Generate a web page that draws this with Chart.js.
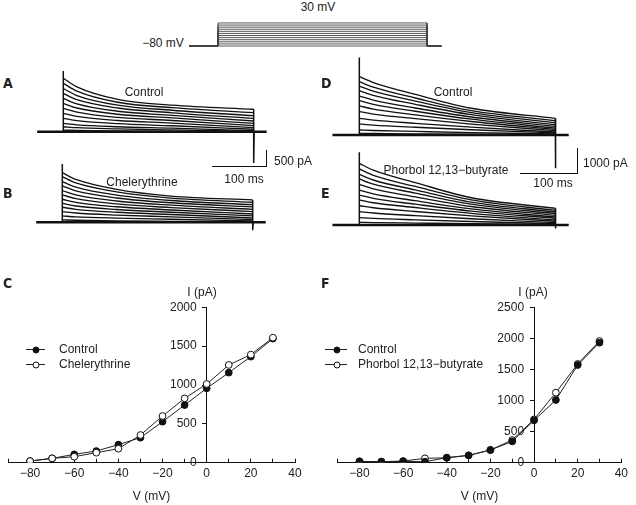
<!DOCTYPE html>
<html lang="en">
<head>
<meta charset="UTF-8">
<title>Outward currents and I-V relations</title>
<script src="https://cdn.jsdelivr.net/npm/chart.js"></script>
<style>
  body { margin: 0; background: #fff; }
  #fig {
    position: relative; width: 636px; height: 505px; overflow: hidden;
    font-family: 'Liberation Sans', Arial, sans-serif; font-size: 12px; color: #222;
  }
  #fig canvas { position: absolute; }
  .t { position: absolute; white-space: nowrap; line-height: 14px; transform: translate(-50%, -50%); }
  .tl { position: absolute; white-space: nowrap; line-height: 14px; transform: translateY(-50%); }
  .panel {
    position: absolute; font-weight: bold; font-size: 14px; line-height: 14px;
    font-family: 'DejaVu Sans Condensed', 'Liberation Sans Narrow', sans-serif; transform: translateY(-50%);
  }
  .bar { position: absolute; border-right: 1.3px solid #111; border-bottom: 1.3px solid #111; }
  .leg-line { position: absolute; height: 0; border-top: 1px solid #222; }
  .leg-dot {
    position: absolute; width: 7px; height: 7px; box-sizing: border-box; border-radius: 50%;
    border: 1px solid #111; transform: translate(-50%, -50%);
  }
</style>
</head>
<body>
<div id="fig">
  <canvas id="protocol" width="265" height="37" style="left:185px;top:15px"></canvas>
  <canvas id="traceA" width="245" height="110" style="left:30px;top:60px"></canvas>
  <canvas id="traceB" width="245" height="85" style="left:30px;top:150px"></canvas>
  <canvas id="traceD" width="250" height="125" style="left:325px;top:50px"></canvas>
  <canvas id="traceE" width="250" height="90" style="left:325px;top:145px"></canvas>
  <canvas id="ivC" width="310" height="225" style="left:0px;top:280px"></canvas>
  <canvas id="ivF" width="320" height="225" style="left:316px;top:280px"></canvas>

  <div class="t" style="left:318px;top:7px">30 mV</div>
  <div class="t" style="left:163px;top:43px">&minus;80 mV</div>

  <div class="panel" style="left:3px;top:83px">A</div>
  <div class="panel" style="left:3px;top:193px">B</div>
  <div class="panel" style="left:3px;top:283px">C</div>
  <div class="panel" style="left:321px;top:83px">D</div>
  <div class="panel" style="left:321px;top:193px">E</div>
  <div class="panel" style="left:321px;top:283px">F</div>

  <div class="t" style="left:144px;top:92px">Control</div>
  <div class="t" style="left:142px;top:182px">Chelerythrine</div>
  <div class="t" style="left:453px;top:92px">Control</div>
  <div class="t" style="left:446px;top:170px">Phorbol 12,13&minus;butyrate</div>

  <div class="bar" style="left:212px;top:150px;width:54px;height:16px"></div>
  <div class="tl" style="left:274px;top:161px">500 pA</div>
  <div class="t" style="left:244px;top:179px">100 ms</div>
  <div class="bar" style="left:520px;top:148px;width:57px;height:25px"></div>
  <div class="tl" style="left:583px;top:163px">1000 pA</div>
  <div class="t" style="left:553px;top:183px">100 ms</div>

  <div class="t" style="left:202px;top:292px">I (pA)</div>
  <div class="t" style="left:533px;top:292px">I (pA)</div>

  <div class="leg-line" style="left:26px;top:349px;width:19px"></div>
  <div class="leg-dot" style="left:35.5px;top:349.5px;background:#111"></div>
  <div class="tl" style="left:59px;top:349px">Control</div>
  <div class="leg-line" style="left:26px;top:364px;width:19px"></div>
  <div class="leg-dot" style="left:35.5px;top:364.5px;background:#fff"></div>
  <div class="tl" style="left:59px;top:364px">Chelerythrine</div>

  <div class="leg-line" style="left:325px;top:349px;width:22px"></div>
  <div class="leg-dot" style="left:336.5px;top:349.5px;background:#111"></div>
  <div class="tl" style="left:358px;top:349px">Control</div>
  <div class="leg-line" style="left:325px;top:364px;width:22px"></div>
  <div class="leg-dot" style="left:336.5px;top:364.5px;background:#fff"></div>
  <div class="tl" style="left:358px;top:364px">Phorbol 12,13&minus;butyrate</div>
</div>

<script>
// test potentials (mV), holding -80 mV
const voltages = [-80, -70, -60, -50, -40, -30, -20, -10, 0, 10, 20, 30];

// I-V data (pA)
const controlC = [21, 56, 107, 150, 232, 322, 528, 742, 957, 1159, 1365, 1597];
const chelerythrine = [21, 56, 77, 129, 180, 356, 601, 828, 1013, 1258, 1391, 1609];
const controlF = [21, 16, 21, 16, 80, 118, 204, 343, 681, 1009, 1572, 1931];
const phorbol = [21, 16, 27, 70, 80, 118, 204, 365, 697, 1127, 1588, 1958];

// sweep timing (ms): recording window and sample times during the step
const sweepWindow = [-48, 374];
const stepTimes = [0, 25, 100, 200, 350];

// current traces read at stepTimes (pA), top sweep (30 mV) first
const tracesA = [
  [1670, 1400, 1010, 830, 700],
  [1510, 1270, 920, 750, 595],
  [1350, 1130, 830, 670, 500],
  [1200, 1000, 740, 590, 415],
  [1040, 870, 640, 510, 335],
  [885, 740, 545, 430, 260],
  [730, 610, 445, 350, 190],
  [575, 480, 350, 270, 125],
  [415, 345, 250, 185, 75],
  [260, 215, 155, 110, 30],
  [155, 125, 90, 55, 10],
  [50, 40, 25, 10, 0]
];
const tracesB = [
  [1550, 1340, 1030, 820, 700],
  [1425, 1230, 950, 755, 625],
  [1270, 1100, 850, 680, 550],
  [1135, 980, 760, 610, 480],
  [990, 855, 665, 535, 405],
  [855, 740, 575, 460, 335],
  [720, 620, 485, 385, 260],
  [590, 510, 400, 315, 200],
  [470, 405, 315, 245, 135],
  [335, 290, 225, 170, 85],
  [200, 170, 130, 95, 40],
  [75, 65, 45, 30, 10]
];
const tracesD = [
  [2270, 2040, 1580, 1040, 650],
  [2075, 1860, 1440, 950, 560],
  [1905, 1705, 1320, 870, 480],
  [1725, 1545, 1195, 790, 400],
  [1515, 1360, 1050, 700, 335],
  [1335, 1195, 925, 615, 270],
  [1130, 1010, 785, 525, 220],
  [910, 815, 635, 425, 170],
  [650, 580, 455, 305, 115],
  [430, 385, 300, 205, 80],
  [195, 175, 140, 95, 40],
  [65, 60, 45, 30, 15]
];
const tracesE = [
  [2400, 2130, 1650, 1060, 650],
  [2180, 1930, 1500, 975, 570],
  [1970, 1750, 1365, 890, 505],
  [1790, 1590, 1240, 810, 440],
  [1580, 1405, 1095, 720, 375],
  [1360, 1210, 945, 625, 310],
  [1165, 1035, 810, 540, 260],
  [975, 865, 680, 455, 195],
  [750, 670, 525, 355, 145],
  [520, 465, 365, 245, 90],
  [285, 255, 200, 135, 50],
  [105, 95, 75, 50, 25]
];
// capacitive transients at step on / off (pA)
const spikeA = [1900, -980];
const spikeB = [1820, -250];
const spikeD = [3020, -1290];
const spikeE = [2830, -140];

Chart.defaults.font.family = "'Liberation Sans', Arial, sans-serif";
Chart.defaults.font.size = 12;
Chart.defaults.color = '#222';

const ink = '#111';
const stepEnd = stepTimes[stepTimes.length - 1];

function hiddenScales(xr, yr) {
  return {
    x: { type: 'linear', display: false, min: xr[0], max: xr[1] },
    y: { type: 'linear', display: false, min: yr[0], max: yr[1] }
  };
}

function traceChart(id, rows, spike, xr, yr) {
  const datasets = [];
  datasets.push({
    data: [{ x: sweepWindow[0], y: 0 }, { x: sweepWindow[1], y: 0 }],
    borderColor: ink, borderWidth: 2.6
  });
  rows.forEach(r => {
    datasets.push({
      data: stepTimes.map((t, i) => ({ x: t, y: r[i] })),
      borderColor: ink, borderWidth: 1.35, cubicInterpolationMode: 'monotone'
    });
  });
  datasets.push({
    data: [
      { x: 0, y: 0 }, { x: 0, y: spike[0] }, { x: 0, y: rows[0][0] },
      { x: stepEnd, y: null },
      { x: stepEnd, y: rows[0][stepTimes.length - 1] }, { x: stepEnd, y: spike[1] }, { x: stepEnd + 1, y: 0 }
    ],
    borderColor: ink, borderWidth: 1.5
  });
  return new Chart(document.getElementById(id), {
    type: 'line',
    data: { datasets },
    options: {
      responsive: false, animation: false,
      layout: { padding: 0 },
      elements: { point: { radius: 0 } },
      plugins: { legend: { display: false }, tooltip: { enabled: false } },
      scales: hiddenScales(xr, yr)
    }
  });
}

// voltage protocol
new Chart(document.getElementById('protocol'), {
  type: 'line',
  data: {
    datasets: voltages.map(v => ({
      data: [
        { x: sweepWindow[0], y: voltages[0] }, { x: 0, y: voltages[0] }, { x: 0, y: v },
        { x: stepEnd, y: v }, { x: stepEnd, y: voltages[0] }, { x: sweepWindow[1], y: voltages[0] }
      ],
      borderColor: '#444', borderWidth: 0.9
    }))
  },
  options: {
    responsive: false, animation: false,
    layout: { padding: 0 },
    elements: { point: { radius: 0 } },
    plugins: { legend: { display: false }, tooltip: { enabled: false } },
    scales: hiddenScales([-55.3, 388.6], [-108.7, 68])
  }
});

traceChart('traceA', tracesA, spikeA, [-61.2, 389.2], [-1197, 2240]);
traceChart('traceB', tracesB, spikeB, [-59.4, 391.0], [-397, 2259]);
traceChart('traceD', tracesD, spikeD, [-61.3, 385.2], [-1556, 3307]);
traceChart('traceE', tracesE, spikeE, [-61.3, 385.2], [-389, 3112]);

const minus = v => (v < 0 ? '\u2212' + Math.abs(v) : String(v));

function ivChart(id, series, yMax, pad) {
  return new Chart(document.getElementById(id), {
    type: 'scatter',
    data: {
      datasets: series.map(s => ({
        label: s.label,
        data: voltages.map((v, i) => ({ x: v, y: s.values[i] })),
        showLine: true,
        borderColor: '#222', borderWidth: 1,
        pointRadius: 3.4, pointBorderWidth: 1,
        pointBackgroundColor: s.fill, pointBorderColor: ink
      }))
    },
    options: {
      responsive: false, animation: false,
      layout: { padding: pad },
      plugins: { legend: { display: false }, tooltip: { enabled: false } },
      scales: {
        x: {
          type: 'linear', position: 'bottom', min: -90, max: 40,
          border: { color: ink, width: 1 },
          grid: { drawOnChartArea: false, drawTicks: true, tickLength: -4, color: ink },
          ticks: {
            stepSize: 10, padding: 8, autoSkip: false, maxRotation: 0,
            callback: v => (v % 20 === 0 ? minus(v) : '')
          },
          title: { display: true, text: 'V (mV)', padding: { top: 0, bottom: 1 } },
          afterFit: s => { s.height = 42.3; }
        },
        y: {
          type: 'linear', position: { x: 0 }, min: 0, max: yMax,
          border: { color: ink, width: 1 },
          grid: { drawOnChartArea: false, tickLength: 4, color: ink },
          // labels sit right-aligned on the axis line; trailing spaces keep the gap
          ticks: { stepSize: 500, callback: v => String(v) + '   ' }
        }
      }
    }
  });
}

// C: open symbols drawn on top (dataset 0 is drawn last)
ivChart('ivC', [
  { label: 'Chelerythrine', values: chelerythrine, fill: '#fff' },
  { label: 'Control', values: controlC, fill: ink }
], 2000, { left: 4.7, right: 15, top: 27.3, bottom: 0 });

// F: filled symbols on top
ivChart('ivF', [
  { label: 'Control', values: controlF, fill: ink },
  { label: 'Phorbol 12,13-butyrate', values: phorbol, fill: '#fff' }
], 2500, { left: 21.7, right: 10, top: 27.3, bottom: 0 });
</script>
</body>
</html>
